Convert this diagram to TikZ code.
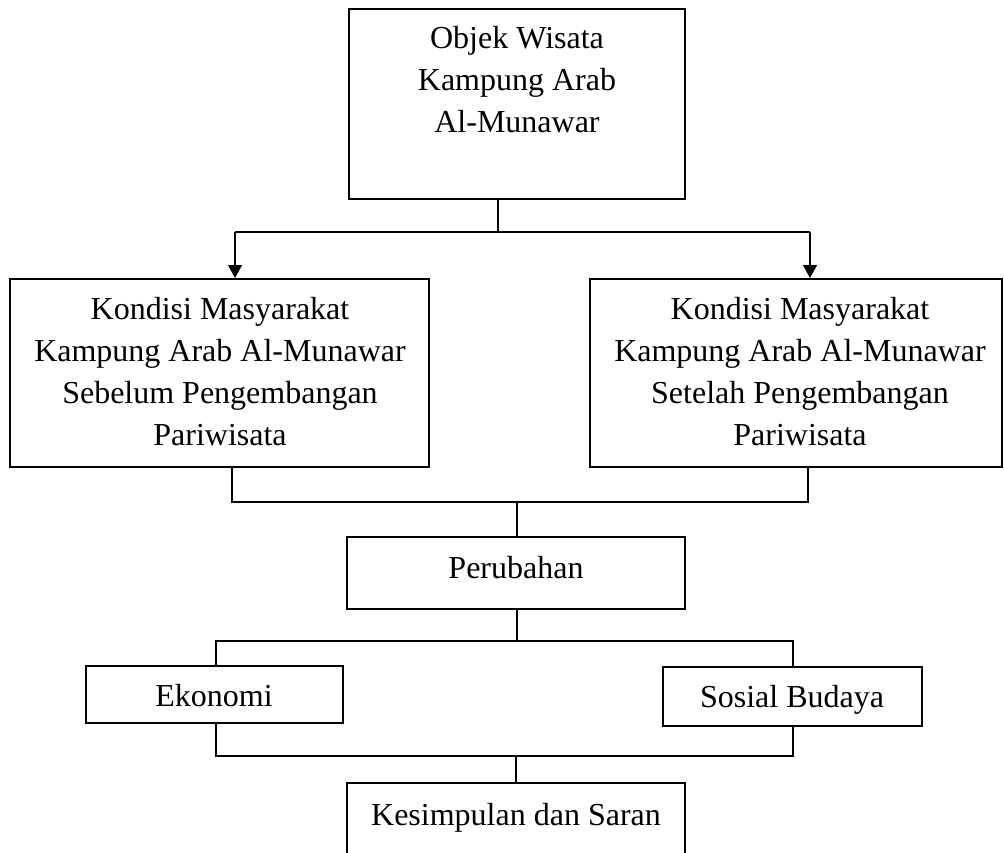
\documentclass[tikz,border=0pt]{standalone}
\usepackage{fontspec}
\setmainfont{Liberation Serif}
\usetikzlibrary{arrows.meta}
\begin{document}
\begin{tikzpicture}[x=1pt,y=-1pt,
  box/.style={draw, line width=1.5pt, rectangle, inner sep=0pt, outer sep=0pt},
  txt/.style={inner sep=0pt, outer sep=0pt, align=center, font=\fontsize{32}{42.3}\selectfont},
  conn/.style={line width=1.4pt},
  arr/.style={conn, -{Triangle[width=14pt,length=13pt]}}
]
\clip (0,0) rectangle (1004,852);
% boxes
\node[box, minimum width=336pt, minimum height=190pt] (obj) at (517,104) {};
\node[box, minimum width=419pt, minimum height=188pt] (sebelum) at (219.5,373) {};
\node[box, minimum width=412pt, minimum height=188pt] (setelah) at (796,373) {};
\node[box, minimum width=338pt, minimum height=72pt] (perubahan) at (516,573) {};
\node[box, minimum width=257pt, minimum height=57pt] (ekonomi) at (214.5,694.5) {};
\node[box, minimum width=259pt, minimum height=59pt] (sosial) at (792.5,696.5) {};
\node[box, minimum width=338pt, minimum height=97pt] (kesimpulan) at (516,831.5) {};
% texts
\node[txt, anchor=north] (objT) at (517,18.4) {\strut Objek Wisata\\Kampung Arab\\Al-Munawar};
\node[txt, anchor=north] (sebelumT) at (220,289.4) {\strut Kondisi Masyarakat\\Kampung Arab Al-Munawar\\Sebelum Pengembangan\\Pariwisata};
\node[txt, anchor=north] (setelahT) at (800,289.4) {\strut Kondisi Masyarakat\\Kampung Arab Al-Munawar\\Setelah Pengembangan\\Pariwisata};
\node[txt, anchor=base] (perubahanT) at (516,578) {Perubahan};
\node[txt, anchor=base] (ekonomiT) at (214,706) {Ekonomi};
\node[txt, anchor=base] (sosialT) at (792,707) {Sosial Budaya};
\node[txt, anchor=base] (kesimpulanT) at (516,825) {Kesimpulan dan Saran};
% connectors: top to the two condition boxes
\coordinate (j1) at (498,232);
\coordinate (hL) at (235,232);
\coordinate (hR) at (810,232);
\draw[conn] (j1 |- obj.south) -- (j1);
\draw[conn] (hL) -- (hR);
\draw[arr] (hL) -- (235,278);
\draw[arr] (hR) -- (810,278);
% condition boxes to Perubahan
\coordinate (bL) at (232,502);
\coordinate (bR) at (808,502);
\coordinate (j2) at (517,502);
\draw[conn] (bL |- sebelum.south) -- (bL) -- (bR) -- (bR |- setelah.south);
\draw[conn] (j2) -- (j2 |- perubahan.north);
% Perubahan to Ekonomi / Sosial Budaya
\coordinate (j3) at (517,641);
\coordinate (cL) at (216,641);
\coordinate (cR) at (793,641);
\draw[conn] (j3 |- perubahan.south) -- (j3);
\draw[conn] (cL |- ekonomi.north) -- (cL) -- (cR) -- (cR |- sosial.north);
% Ekonomi / Sosial Budaya to Kesimpulan
\coordinate (dL) at (216,756);
\coordinate (dR) at (793,756);
\coordinate (j4) at (516,756);
\draw[conn] (dL |- ekonomi.south) -- (dL) -- (dR) -- (dR |- sosial.south);
\draw[conn] (j4) -- (j4 |- kesimpulan.north);
\end{tikzpicture}
\end{document}
